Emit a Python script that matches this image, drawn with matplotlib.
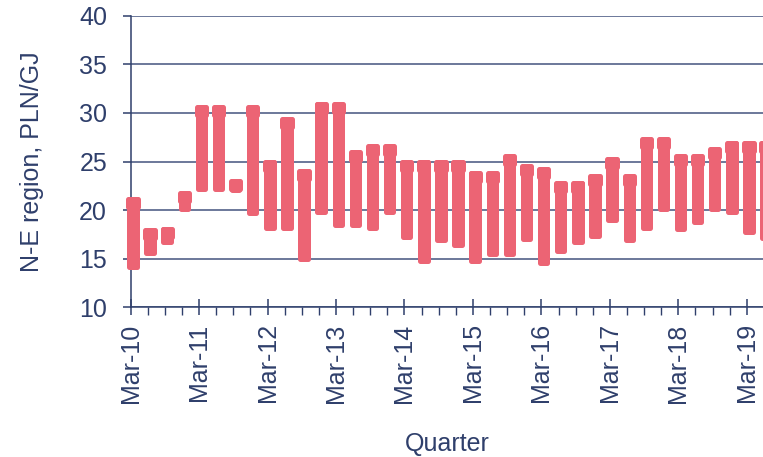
import matplotlib.pyplot as plt
import numpy as np

# quarterly price ranges, N-E region (PLN/GJ), Mar-10 onward
lows = [14.1, 15.5, 16.7, 20.1, 22.1, 22.1, 22.0, 19.6, 18.1, 18.1,
        14.9, 19.7, 18.4, 18.4, 18.1, 19.7, 17.2, 14.7, 16.9, 16.3,
        14.7, 15.4, 15.4, 17.0, 14.5, 15.7, 16.7, 17.3, 18.9, 16.9,
        18.1, 20.1, 18.0, 18.7, 20.1, 19.7, 17.7, 17.1]
highs = [21.2, 18.0, 18.1, 21.8, 30.7, 30.7, 23.1, 30.7, 25.0, 29.4,
         24.1, 31.0, 31.0, 26.0, 26.7, 26.7, 25.0, 25.0, 25.0, 25.0,
         23.9, 23.9, 25.6, 24.6, 24.3, 22.8, 22.8, 23.6, 25.3, 23.6,
         27.4, 27.4, 25.6, 25.6, 26.3, 27.0, 27.0, 27.0]
tick_labels = ["Mar-10", "Mar-11", "Mar-12", "Mar-13", "Mar-14",
               "Mar-15", "Mar-16", "Mar-17", "Mar-18", "Mar-19"]

navy = "#2F3F6B"
grid_col = "#44547E"
bar_col = "#EC6474"

plt.rcParams["font.family"] = ["Liberation Sans", "DejaVu Sans"]
plt.rcParams["font.size"] = 18

fig = plt.figure(figsize=(7.63, 4.57), dpi=100)
ax = fig.add_axes([0.1713, 0.3276, 0.8287, 0.638])

x = np.arange(len(lows)) + 0.13
lows = np.array(lows) + 0.06
highs = np.array(highs) - 0.06
cap_h = 0.82

# high-low body (thick rounded edge gives the soft corners)
ax.bar(x, highs - lows, bottom=lows, width=0.43, color=bar_col,
       edgecolor=bar_col, linewidth=3.6, joinstyle="round", clip_on=False,
       zorder=3)
# wider block at the top of each range
ax.bar(x, cap_h, bottom=highs - cap_h, width=0.54, color=bar_col,
       edgecolor=bar_col, linewidth=3.6, joinstyle="round", clip_on=False,
       zorder=3)

ax.set_ylim(10, 40)
ax.set_xlim(0, 36.95)
ax.set_yticks(np.arange(10, 41, 5))
ax.yaxis.grid(True, color=grid_col, lw=1.1)
ax.set_axisbelow(True)

ax.set_xticks(np.arange(0, 37, 4))
ax.set_xticklabels(tick_labels, rotation=90)
ax.set_xticks(np.arange(0, 37, 1), minor=True)

for s in ["top", "right"]:
    ax.spines[s].set_visible(False)
for s in ["left", "bottom"]:
    ax.spines[s].set_color(navy)
    ax.spines[s].set_linewidth(1.1)

ax.tick_params(axis="y", colors=navy, length=6, width=1.1, pad=11)
ax.tick_params(axis="x", which="major", colors=navy, direction="inout",
               length=11, width=1.1, pad=6)
ax.tick_params(axis="x", which="minor", colors=navy, direction="out",
               length=5.5, width=1.0)

ax.set_ylabel("N-E region, PLN/GJ", color=navy, labelpad=25)
ax.set_xlabel("Quarter", color=navy, labelpad=21)

fig.savefig("out.png", dpi=100)
